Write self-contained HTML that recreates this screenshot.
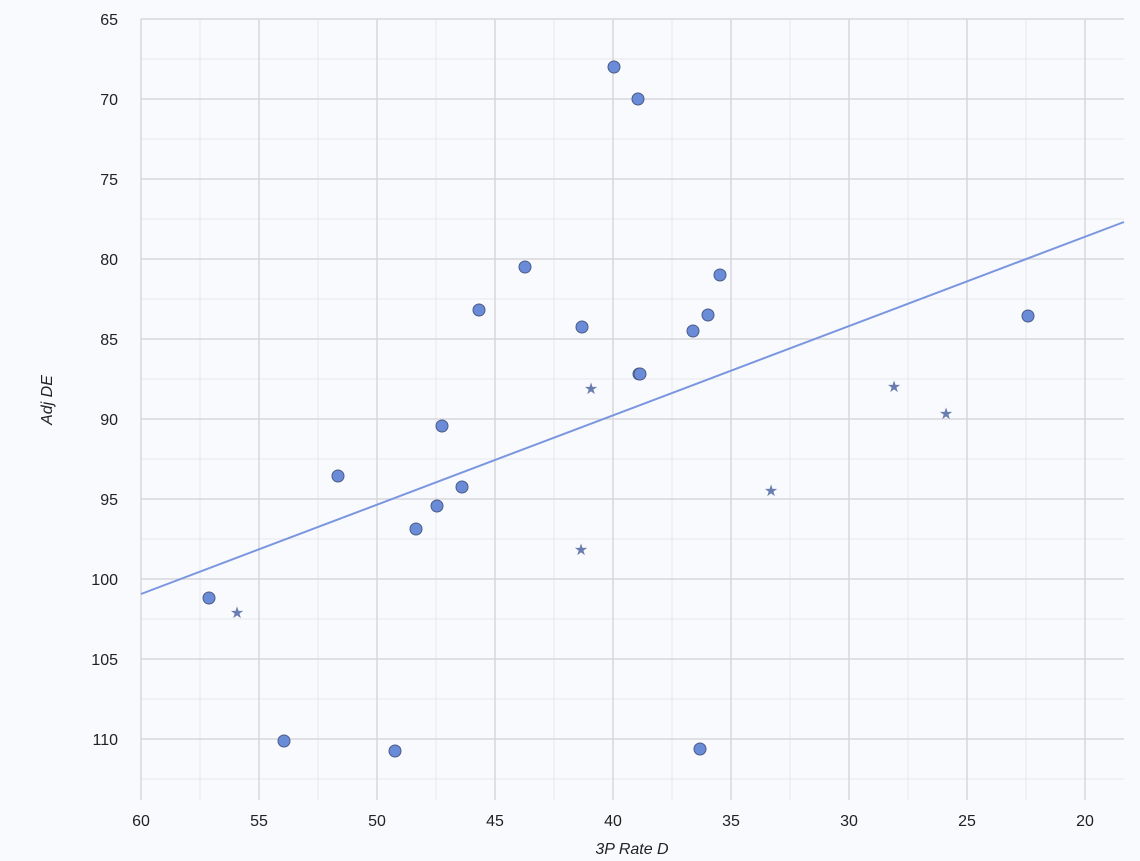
<!DOCTYPE html><html><head><style>body{margin:0;background:#f8fafd}svg{display:block}text{font-family:"Liberation Sans",sans-serif;fill:#222;font-size:16px}</style></head><body>
<svg width="1140" height="861" xmlns="http://www.w3.org/2000/svg">
<rect width="1140" height="861" fill="#f8fafd"/>
<g stroke="#e8e8ec" stroke-width="1">
<line x1="200" y1="19" x2="200" y2="800"/><line x1="318" y1="19" x2="318" y2="800"/><line x1="436" y1="19" x2="436" y2="800"/><line x1="554" y1="19" x2="554" y2="800"/><line x1="672" y1="19" x2="672" y2="800"/><line x1="790" y1="19" x2="790" y2="800"/><line x1="908" y1="19" x2="908" y2="800"/><line x1="1026" y1="19" x2="1026" y2="800"/>
<line x1="141" y1="59" x2="1124" y2="59"/><line x1="141" y1="139" x2="1124" y2="139"/><line x1="141" y1="219" x2="1124" y2="219"/><line x1="141" y1="299" x2="1124" y2="299"/><line x1="141" y1="379" x2="1124" y2="379"/><line x1="141" y1="459" x2="1124" y2="459"/><line x1="141" y1="539" x2="1124" y2="539"/><line x1="141" y1="619" x2="1124" y2="619"/><line x1="141" y1="699" x2="1124" y2="699"/><line x1="141" y1="779" x2="1124" y2="779"/>
</g>
<g stroke="#d8d8dc" stroke-width="1.5">
<line x1="141" y1="19" x2="141" y2="800"/><line x1="259" y1="19" x2="259" y2="800"/><line x1="377" y1="19" x2="377" y2="800"/><line x1="495" y1="19" x2="495" y2="800"/><line x1="613" y1="19" x2="613" y2="800"/><line x1="731" y1="19" x2="731" y2="800"/><line x1="849" y1="19" x2="849" y2="800"/><line x1="967" y1="19" x2="967" y2="800"/><line x1="1085" y1="19" x2="1085" y2="800"/>
<line x1="141" y1="19" x2="1124" y2="19"/><line x1="141" y1="99" x2="1124" y2="99"/><line x1="141" y1="179" x2="1124" y2="179"/><line x1="141" y1="259" x2="1124" y2="259"/><line x1="141" y1="339" x2="1124" y2="339"/><line x1="141" y1="419" x2="1124" y2="419"/><line x1="141" y1="499" x2="1124" y2="499"/><line x1="141" y1="579" x2="1124" y2="579"/><line x1="141" y1="659" x2="1124" y2="659"/><line x1="141" y1="739" x2="1124" y2="739"/>
</g>
<g text-anchor="middle">
<text x="141" y="826">60</text><text x="259" y="826">55</text><text x="377" y="826">50</text><text x="495" y="826">45</text><text x="613" y="826">40</text><text x="731" y="826">35</text><text x="849" y="826">30</text><text x="967" y="826">25</text><text x="1085" y="826">20</text>
</g>
<g text-anchor="end">
<text x="118" y="25">65</text><text x="118" y="105">70</text><text x="118" y="185">75</text><text x="118" y="265">80</text><text x="118" y="345">85</text><text x="118" y="425">90</text><text x="118" y="505">95</text><text x="118" y="585">100</text><text x="118" y="665">105</text><text x="118" y="745">110</text>
</g>
<line x1="141" y1="594" x2="1124" y2="222" stroke="#7b96e0" stroke-width="2"/>
<g fill="#6a8cd8" stroke="#4b5b86" stroke-width="1">
<circle cx="614" cy="67" r="6"/><circle cx="638" cy="99" r="6"/><circle cx="525" cy="267" r="6"/><circle cx="720" cy="275" r="6"/><circle cx="479" cy="310" r="6"/><circle cx="582" cy="327" r="6"/><circle cx="708" cy="315" r="6"/><circle cx="693" cy="331" r="6"/><circle cx="639" cy="374" r="6"/><circle cx="640" cy="374" r="6"/><circle cx="1028" cy="316" r="6"/><circle cx="442" cy="426" r="6"/><circle cx="338" cy="476" r="6"/><circle cx="462" cy="487" r="6"/><circle cx="437" cy="506" r="6"/><circle cx="416" cy="529" r="6"/><circle cx="209" cy="598" r="6"/><circle cx="284" cy="741" r="6"/><circle cx="395" cy="751" r="6"/><circle cx="700" cy="749" r="6"/>
</g>
<g text-anchor="middle" style="fill:#6a7db0;font-family:'DejaVu Sans',sans-serif;font-size:15px">
<text x="591" y="394" style="fill:#6a7db0">★</text><text x="894" y="392" style="fill:#6a7db0">★</text><text x="946" y="419" style="fill:#6a7db0">★</text><text x="771" y="496" style="fill:#6a7db0">★</text><text x="581" y="555" style="fill:#6a7db0">★</text><text x="237" y="618" style="fill:#6a7db0">★</text>
</g>
<text x="632" y="854" text-anchor="middle" font-style="italic">3P Rate D</text>
<text transform="translate(52,400) rotate(-90)" text-anchor="middle" font-style="italic">Adj DE</text>
</svg></body></html>
